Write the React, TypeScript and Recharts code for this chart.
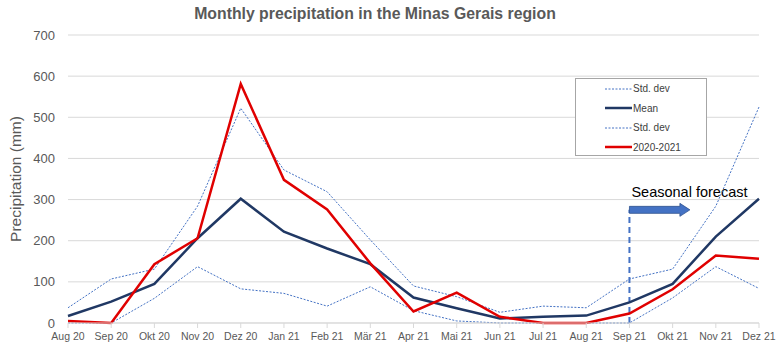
import React from "react";
import {
  LineChart,
  Line,
  XAxis,
  YAxis,
  CartesianGrid,
  ReferenceLine,
} from "recharts";

// months on the category axis
const months = [
  "Aug 20", "Sep 20", "Okt 20", "Nov 20", "Dez 20", "Jan 21", "Feb 21", "Mär 21",
  "Apr 21", "Mai 21", "Jun 21", "Jul 21", "Aug 21", "Sep 21", "Okt 21", "Nov 21", "Dez 21",
];

// values (mm)
const meanValues = [17, 52, 95, 206, 302, 222, 181, 143, 62, 36, 11, 15, 18, 50, 95, 210, 302];
const upperStd = [37, 107, 131, 284, 522, 372, 319, 202, 90, 64, 26, 41, 37, 107, 131, 284, 525];
const lowerStd = [0, 0, 60, 137, 83, 72, 41, 88, 30, 5, 0, 0, 0, 0, 61, 137, 84];
const observed = [5, 0, 143, 206, 581, 348, 276, 145, 28, 74, 15, 0, 0, 23, 82, 164, 156];

const yTicks = [0, 100, 200, 300, 400, 500, 600, 700];

const forecastStart = "Sep 21";
const forecastEnd = "Okt 21";
const forecastLevel = 275;

const data = months.map((m, i) => ({
  month: m,
  upper: upperStd[i],
  mean: meanValues[i],
  lower: lowerStd[i],
  obs: observed[i],
}));

const FONT = "'Liberation Sans', Arial, sans-serif";
const STD_BLUE = "#4472C4";
const NAVY = "#203864";
const RED = "#E00000";

const legendItems = [
  { label: "Std. dev", color: STD_BLUE, dashed: true },
  { label: "Mean", color: NAVY, dashed: false },
  { label: "Std. dev", color: STD_BLUE, dashed: true },
  { label: "2020-2021", color: RED, dashed: false },
];

const LegendBox = () => (
  <div
    style={{
      position: "absolute",
      left: 575,
      top: 78,
      width: 132,
      height: 78,
      border: "1px solid #a6a6a6",
      background: "#fff",
      boxSizing: "border-box",
      fontFamily: FONT,
      fontSize: 10,
      color: "#404040",
    }}
  >
    {legendItems.map((it, i) => (
      <div key={i} style={{ display: "flex", alignItems: "center", height: 19.5 }}>
        <svg width={56} height={6}>
          <line
            x1={29}
            x2={56}
            y1={3}
            y2={3}
            stroke={it.color}
            strokeWidth={it.dashed ? 1 : 2.5}
            strokeDasharray={it.dashed ? "2 1.5" : undefined}
          />
        </svg>
        <span style={{ marginLeft: 1 }}>{it.label}</span>
      </div>
    ))}
  </div>
);

// arrow drawn along the reference segment, with the annotation text above it
const ForecastArrow = (props: any) => {
  const { x1, y1, x2 } = props;
  if (x1 == null) return null;
  const len = (x2 - x1) * 1.4;
  const headLen = 10;
  const shaft = 3.5;
  const head = 6.5;
  const xe = x1 + len;
  const pts = [
    [x1, y1 - shaft],
    [xe - headLen, y1 - shaft],
    [xe - headLen, y1 - head],
    [xe, y1],
    [xe - headLen, y1 + head],
    [xe - headLen, y1 + shaft],
    [x1, y1 + shaft],
  ]
    .map((p) => p.join(","))
    .join(" ");
  return (
    <g>
      <polygon points={pts} fill={STD_BLUE} stroke="#2F528F" strokeWidth={0.8} />
      <text x={x1 + 2} y={y1 - 13} fontFamily={FONT} fontSize={14.5} fill="#000">
        Seasonal forecast
      </text>
    </g>
  );
};

const YLabel = (props: any) => {
  const { viewBox } = props;
  const cy = viewBox.y + viewBox.height / 2;
  return (
    <text
      x={21}
      y={cy}
      transform={`rotate(-90, 21, ${cy})`}
      textAnchor="middle"
      fontFamily={FONT}
      fontSize={15.5}
      fill="#595959"
    >
      Precipitation (mm)
    </text>
  );
};

export default function App() {
  return (
    <div style={{ width: 779, height: 355, position: "relative", background: "#fff" }}>
      <style>{"body{margin:0}"}</style>
      <div
        style={{
          position: "absolute",
          left: 0,
          width: 750,
          top: 5,
          textAlign: "center",
          fontFamily: FONT,
          fontWeight: "bold",
          fontSize: 15.8,
          color: "#595959",
        }}
      >
        Monthly precipitation in the Minas Gerais region
      </div>
      <LineChart
        width={779}
        height={355}
        data={data}
        margin={{ top: 35, right: 20, bottom: 0, left: 0 }}
      >
        <CartesianGrid vertical={false} stroke="#d9d9d9" />
        <XAxis
          dataKey="month"
          interval={0}
          tickSize={5}
          tickMargin={5}
          height={32}
          stroke="#d9d9d9"
          tick={{ fontFamily: FONT, fontSize: 10.5, fill: "#595959" }}
        />
        <YAxis
          width={68}
          domain={[0, 700]}
          ticks={yTicks}
          axisLine={false}
          tickLine={false}
          tickMargin={7}
          tick={{ fontFamily: FONT, fontSize: 13, fill: "#595959" }}
          label={<YLabel />}
        />
        <ReferenceLine
          segment={[
            { x: forecastStart, y: 0 },
            { x: forecastStart, y: forecastLevel },
          ]}
          stroke={STD_BLUE}
          strokeWidth={2}
          strokeDasharray="6 4"
        />
        <ReferenceLine
          segment={[
            { x: forecastStart, y: forecastLevel },
            { x: forecastEnd, y: forecastLevel },
          ]}
          shape={(p: any) => <ForecastArrow {...p} />}
        />
        <Line dataKey="upper" stroke={STD_BLUE} strokeWidth={1} strokeDasharray="2 1.5" dot={false} isAnimationActive={false} />
        <Line dataKey="lower" stroke={STD_BLUE} strokeWidth={1} strokeDasharray="2 1.5" dot={false} isAnimationActive={false} />
        <Line dataKey="mean" stroke={NAVY} strokeWidth={2.5} dot={false} isAnimationActive={false} />
        <Line dataKey="obs" stroke={RED} strokeWidth={2.5} dot={false} isAnimationActive={false} />
      </LineChart>
      <LegendBox />
    </div>
  );
}
